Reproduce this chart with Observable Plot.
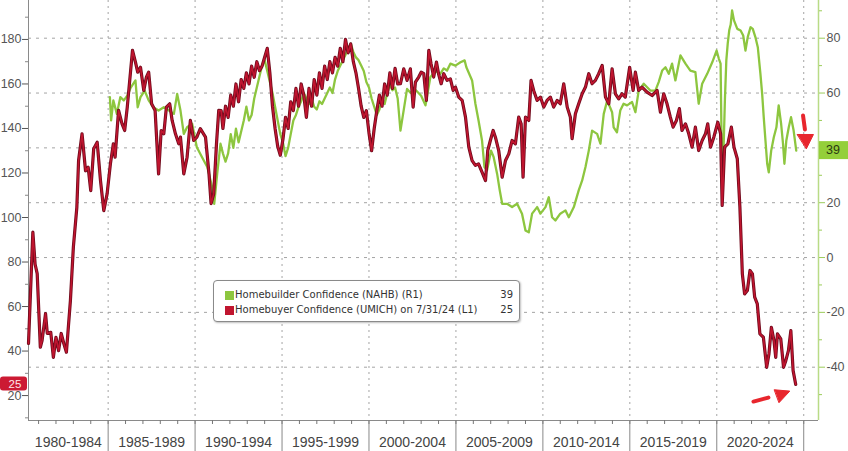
<!DOCTYPE html>
<html><head><meta charset="utf-8">
<script src="https://cdn.jsdelivr.net/npm/d3@7"></script>
<script src="https://cdn.jsdelivr.net/npm/@observablehq/plot@0.6"></script>
<style>
html,body{margin:0;padding:0;background:#fff;}
#wrap{position:relative;width:848px;height:451px;overflow:hidden;background:#fff;}
#legend{position:absolute;left:213px;top:280px;width:305px;height:40px;border:1px solid #8a8a8a;border-radius:4px;background:#fff;box-shadow:1px 1px 2px rgba(0,0,0,0.25);font-family:"DejaVu Sans",sans-serif;font-size:10px;color:#333;}
.lrow{position:absolute;left:11px;right:6px;height:14px;line-height:14px;}
.sw{position:absolute;left:0;top:3px;width:9px;height:9px;}
.lname{position:absolute;left:10px;}
.lval{position:absolute;right:0;}
</style>
</head><body>
<div id="wrap"></div>
<script>
// ---- data ----
const redSeries = [
[1980.42,43.4],[1980.67,93.4],[1980.8,79],[1980.92,74.8],[1981.1,41.7],[1981.2,44.7],[1981.4,56.8],[1981.5,47.9],[1981.7,48.4],[1981.85,37.2],
[1982.0,46.2],[1982.15,40.2],[1982.3,47.9],[1982.45,43.4],[1982.6,39.5],[1982.83,62.7],[1983.0,86.7],[1983.2,104.6],[1983.3,125.6],[1983.5,137.6],
[1983.7,121],[1983.85,122.6],[1984.0,112.1],[1984.17,130.9],[1984.37,133.8],[1984.56,116.6],[1984.75,103.1],[1984.94,110.6],[1985.13,124.1],[1985.3,133.1],
[1985.4,127.1],[1985.6,148.1],[1985.8,142.1],[1985.95,139.1],[1986.1,149.6],[1986.4,175.1],[1986.57,169.8],[1986.7,165.3],[1986.86,167.5],[1987.05,157.1],
[1987.2,163.1],[1987.33,165.3],[1987.5,151.1],[1987.7,148.1],[1987.9,119.6],[1988.05,139.1],[1988.2,137.6],[1988.35,149.6],[1988.54,151.1],[1988.68,143.6],
[1988.87,137.6],[1989.06,133.1],[1989.16,136.1],[1989.35,119.6],[1989.54,127.1],[1989.73,143.6],[1989.92,134.6],[1990.1,136.1],[1990.3,139.9],[1990.6,136.1],
[1990.8,119.6],[1990.92,106.2],[1991.07,110.6],[1991.23,133.1],[1991.36,148.1],
[1991.5,148],[1991.6,140],[1991.75,150],[1991.9,145],[1992.05,155],[1992.2,150],[1992.35,160],[1992.5,152],[1992.65,162],[1992.8,158],[1992.95,165],
[1993.1,160],[1993.25,168],[1993.4,163],[1993.55,170],[1993.7,166],[1993.85,168],[1994.0,172],[1994.15,176],[1994.3,165],[1994.45,150],[1994.6,140],[1994.75,132],[1994.9,128],
[1995.05,135],[1995.2,145],[1995.35,140],[1995.5,152],[1995.65,148],[1995.8,158],[1995.95,150],[1996.1,160],[1996.25,155],[1996.4,145],[1996.55,158],[1996.7,150],[1996.85,162],
[1997.0,155],[1997.15,165],[1997.3,158],[1997.45,168],[1997.6,162],[1997.75,170],[1997.9,165],[1998.05,172],[1998.2,168],[1998.35,176],[1998.5,170],[1998.65,180],[1998.8,174],[1998.95,178],
[1999.1,170],[1999.25,165],[1999.4,158],[1999.55,150],[1999.7,145],[1999.85,148],[2000.0,138],[2000.15,130],[2000.3,140],[2000.45,148],[2000.6,155],[2000.75,150],[2000.9,160],
[2001.05,155],[2001.2,165],[2001.35,158],[2001.5,167],[2001.65,160],
[2001.81,160.1],[2002.0,166.8],[2002.19,161.6],[2002.38,166.8],[2002.54,149.6],[2002.67,160.8],[2002.86,163.1],[2003.0,165.3],[2003.15,164.6],[2003.3,152.6],
[2003.44,175.1],[2003.57,169.1],[2003.72,163.1],[2003.88,169.8],[2004.0,164.6],[2004.15,160.1],[2004.3,164.6],[2004.49,161.6],[2004.68,162.3],[2004.84,157.1],
[2004.97,158.6],[2005.16,154.1],[2005.36,152.6],[2005.55,145.1],[2005.74,131.6],[2005.93,125.6],[2006.12,123.4],[2006.3,124.1],[2006.5,120.4],[2006.7,116.6],
[2006.83,130.1],[2006.98,134.6],[2007.14,139.1],[2007.27,136.1],[2007.46,130.1],[2007.66,118.1],[2007.85,125.6],[2008.04,128.6],[2008.23,134.6],[2008.42,133.1],
[2008.61,145.1],[2008.75,142.1],[2008.86,118.1],[2009.0,145.1],[2009.19,143.6],[2009.32,161.6],[2009.47,157.1],[2009.67,152.6],[2009.86,154.1],[2010.05,149.6],
[2010.24,152.6],[2010.43,154.1],[2010.62,149.6],[2010.82,152.6],[2011.0,151.1],[2011.2,160.1],[2011.4,149.6],[2011.58,145.1],[2011.68,135.4],[2011.87,146.6],
[2012.06,151.1],[2012.26,155.6],[2012.45,158.6],[2012.64,164.6],[2012.83,160.1],[2013.02,161.6],[2013.21,164.6],[2013.41,168.3],
[2013.6,154.1],[2013.79,151.1],[2013.98,166.8],[2014.17,155.6],[2014.36,153.3],[2014.55,155.6],[2014.74,154.1],[2014.99,167.5],[2015.19,157.1],[2015.32,165.3],
[2015.51,157.1],[2015.7,158.6],[2015.99,156.3],[2016.28,154.8],[2016.57,157.1],[2016.76,147.3],[2016.95,155.6],[2017.14,151.1],[2017.33,145.1],[2017.49,140.6],
[2017.68,143.6],[2017.85,148.9],[2018.0,139.1],[2018.2,142.1],[2018.39,137.6],[2018.58,131.6],[2018.77,140.6],[2018.96,130.1],[2019.16,134.6],[2019.35,137.6],
[2019.48,142.1],[2019.64,131.6],[2019.83,136.1],[2020.06,142.8],[2020.22,137.6],[2020.31,105.4],[2020.45,131.6],[2020.64,133.1],[2020.84,140.6],[2020.99,131.6],
[2021.18,126.4],[2021.33,104.6],[2021.47,74.7],[2021.6,65.7],[2021.76,67.2],[2021.91,76.2],[2022.05,74.7],[2022.18,64.2],[2022.33,61.2],[2022.48,47.7],
[2022.68,46.2],[2022.87,32.7],[2023.0,38.7],[2023.14,50.7],[2023.29,44.7],[2023.39,37.2],[2023.49,47.7],[2023.68,45.5],[2023.84,32.7],[2023.97,35.7],
[2024.12,40.2],[2024.26,49.2],[2024.39,31.2],[2024.54,25]
];
const greenSeries = [
[1985.1,58.5],[1985.17,50],[1985.3,57.3],[1985.5,52.4],[1985.7,58.5],[1985.9,57.3],[1986.1,59],[1986.3,62],[1986.57,64.6],[1986.7,54.8],
[1986.86,58.5],[1987.1,60.9],[1987.33,57.3],[1987.6,54.8],[1987.9,53.6],[1988.2,54.8],[1988.5,53.6],[1988.78,52.4],[1988.97,59.7],[1989.16,53.6],
[1989.35,45.1],[1989.54,47.5],[1989.83,48.8],[1990.1,40.2],[1990.4,36.6],[1990.7,33],[1990.98,25.7],[1991.1,19.6],[1991.27,30.5],[1991.46,41.5],
[1991.6,38],[1991.75,35],[1991.9,38],[1992.05,45],[1992.2,40],[1992.35,47],[1992.5,42],[1992.65,46],[1992.8,50],[1992.95,55],
[1993.1,50],[1993.25,52],[1993.4,58],[1993.55,62],[1993.7,66],[1993.85,70],[1994.0,72],[1994.15,68],[1994.3,64],[1994.45,60],[1994.6,55],[1994.75,50],[1994.9,45],
[1995.05,42],[1995.2,37],[1995.35,40],[1995.5,45],[1995.65,50],[1995.8,52],[1995.95,55],[1996.1,57],[1996.25,60],[1996.4,58],[1996.55,56],[1996.7,58],[1996.85,55],
[1997.0,54],[1997.15,57],[1997.3,56],[1997.45,58],[1997.6,60],[1997.75,62],[1997.9,60],[1998.05,65],[1998.2,68],[1998.35,70],[1998.5,72],[1998.65,74],[1998.8,76],[1998.95,78],
[1999.1,75],[1999.25,73],[1999.4,72],[1999.55,70],[1999.7,68],[1999.85,64],[2000.0,62],[2000.15,58],[2000.3,55],[2000.45,52],[2000.6,54],[2000.75,58],[2000.9,56],
[2001.05,60],[2001.2,63],[2001.35,61],[2001.5,62],[2001.65,58],
[2001.81,46.3],[2002.19,61.5],[2002.4,60],[2002.7,61],[2003.0,59],[2003.25,55.5],[2003.53,65.8],[2003.8,68],[2004.1,67],[2004.3,69],
[2004.49,68.2],[2004.68,70.7],[2004.97,70],[2005.26,71.2],[2005.5,71.9],[2005.6,69.4],[2005.93,64.6],[2006.12,56.1],[2006.3,50],[2006.5,42.7],
[2006.64,33],[2006.79,31.8],[2007.02,39],[2007.17,36.6],[2007.37,30.5],[2007.52,24.5],[2007.66,19.6],[2007.94,19.6],[2008.23,18.4],[2008.52,19.6],
[2008.8,16],[2009.0,9.9],[2009.19,9.2],[2009.38,16],[2009.67,18.4],[2009.86,16],[2010.15,18.4],[2010.34,22],[2010.53,14.7],[2010.72,13.5],
[2011.0,16],[2011.3,17.2],[2011.49,14.7],[2011.78,18.4],[2012.06,24.5],[2012.26,28.1],[2012.45,33],[2012.64,39],[2012.83,46.3],[2013.12,45.1],
[2013.31,41.5],[2013.5,52.4],[2013.7,57.3],[2013.98,53],[2014.07,47.5],[2014.26,45.7],[2014.45,53.6],[2014.64,56.1],[2014.84,55.5],[2015.13,56.7],
[2015.32,53],[2015.51,60.9],[2015.8,63.4],[2016.18,60.9],[2016.47,60.9],[2016.66,64],[2016.86,68.2],[2017.05,69.4],[2017.24,67],[2017.43,70.7],
[2017.62,64.6],[2017.91,73.7],[2018.2,70.7],[2018.48,68.2],[2018.77,67.6],[2018.96,56.1],[2019.16,63.4],[2019.45,67],[2019.74,71.2],[2019.99,75.5],
[2020.12,72.5],[2020.22,70.7],[2020.3,30],[2020.38,37],[2020.47,58],[2020.55,72],[2020.63,78],[2020.72,83],[2020.8,85],[2020.88,90.1],
[2020.99,86.5],[2021.18,83.4],[2021.37,82.8],[2021.52,81],[2021.65,75.5],[2021.78,80.4],[2021.94,84],[2022.07,83.4],[2022.22,80.4],[2022.36,76.7],
[2022.51,67],[2022.61,59.7],[2022.7,51.2],[2022.8,42.7],[2022.9,34.2],[2022.99,31.1],[2023.13,39],[2023.28,43.9],[2023.43,47.5],[2023.56,55.5],
[2023.7,48.8],[2023.81,41.5],[2023.89,34.2],[2024.0,42.7],[2024.14,47.5],[2024.27,51.2],[2024.42,46.3],[2024.57,39]
];
const periodStarts = [1980,1985,1990,1995,2000,2005,2010,2015,2020];
const periodLabels = ["1980-1984","1985-1989","1990-1994","1995-1999","2000-2004","2005-2009","2010-2014","2015-2019","2020-2024"];
const leftTicks = [20,40,60,80,100,120,140,160,180];
const leftMinor = [10,30,50,70,90,110,130,150,170,190];
const rightTicks = [-40,-20,0,20,40,60,80];
const rightMinor = [-50,-30,-10,10,30,50,70,90];
const legendNames = ["Homebuilder Confidence (NAHB) (R1)","Homebuyer Confidence (UMICH) on 7/31/24 (L1)"];
const legendValues = [39, 25];
const seriesColors = ["#8dc63f", "#c0152f"];
// annotation arrows (year, left-axis value)
const arrowShafts = [
  {a:"top",t:2024.96,v:145.8},{a:"top",t:2025.07,v:139.5},
  {a:"bot",t:2022.11,v:17.3},{a:"bot",t:2022.97,v:19.1}
];
const arrowHeads = [
  {a:"top",t:2024.64,v:137.3},{a:"top",t:2025.56,v:137.3},{a:"top",t:2025.16,v:131.0},
  {a:"bot",t:2023.32,v:22.6},{a:"bot",t:2024.2,v:22.0},{a:"bot",t:2023.59,v:16.9}
];

// ---- scales ----
const X0 = 1980.42, X1 = 2025.85;
const L0 = 8.8, L1 = 197.5;
const R0 = -59.44, R1 = 93.75;
const toLeft = g => L0 + (g - R0) * (L1 - L0) / (R1 - R0);

const red = redSeries.map(([t, v]) => ({t, v}));
const green = greenSeries.map(([t, g]) => ({t, v: toLeft(g)}));
const yearTicks = d3.range(1981, 2026);
const labelCenters = periodStarts.map(s => (Math.max(s, X0) + Math.min(s + 5, X1)) / 2);
const labelMap = new Map(labelCenters.map((c, i) => [c, periodLabels[i]]));
const lastGreen = greenSeries[greenSeries.length - 1][1];
const lastRed = redSeries[redSeries.length - 1][1];
// the value badge on the right axis covers the tick label nearest to it
const rightMap = new Map(rightTicks.map(r => [toLeft(r), Math.abs(r - lastGreen) < 8 ? "" : String(r)]));
const narrow = "'Liberation Sans Narrow','Arial Narrow',sans-serif";

const chart = Plot.plot({
  width: 848, height: 451,
  marginLeft: 28, marginRight: 30, marginTop: 0, marginBottom: 31,
  style: {fontFamily: narrow, fontSize: "12.5px", color: "#555", background: "#fff", overflow: "visible"},
  x: {domain: [X0, X1], label: null},
  y: {domain: [L0, L1], label: null},
  marks: [
    Plot.gridY(rightTicks.map(toLeft), {stroke: "#9a9a9a", strokeOpacity: 0.9, strokeDasharray: "3,5"}),
    Plot.gridX(periodStarts.slice(1).concat([2025]), {stroke: "#9a9a9a", strokeOpacity: 0.9, strokeDasharray: "2,4"}),
    Plot.ruleX([X0], {stroke: "#8a8a8a"}),
    Plot.ruleX([X1], {stroke: "#b9db86", strokeWidth: 1.5}),
    Plot.ruleY([L0], {stroke: "#8a8a8a"}),
    Plot.axisY(leftMinor, {anchor: "left", tickSize: 3, tickFormat: () => "", color: "#888"}),
    Plot.axisY(leftTicks, {anchor: "left", tickSize: 6, tickPadding: 1, color: "#555", fontFamily: narrow, fontSize: 12.5}),
    Plot.axisY(rightMinor.map(toLeft), {anchor: "right", tickSize: 3, tickFormat: () => "", color: "#9ccc5a"}),
    Plot.axisY(rightTicks.map(toLeft), {anchor: "right", tickSize: 6, tickPadding: 2, tickFormat: d => rightMap.get(d), stroke: "#9ccc5a", fill: "#555", fontFamily: narrow, fontSize: 12.5}),
    Plot.axisX(yearTicks, {anchor: "bottom", tickSize: 4, tickFormat: () => "", color: "#777"}),
    Plot.axisX(periodStarts.slice(1).concat([2025]), {anchor: "bottom", tickSize: 31, tickFormat: () => "", color: "#888"}),
    Plot.axisX(labelCenters, {anchor: "bottom", tickSize: 0, tickPadding: 17, tickFormat: d => labelMap.get(d), color: "#444", fontFamily: narrow, fontSize: 14}),
    Plot.line(green, {x: "t", y: "v", stroke: seriesColors[0], strokeWidth: 2.3}),
    Plot.line(red, {x: "t", y: "v", stroke: "#6e0a1c", strokeWidth: 3.2}),
    Plot.line(red, {x: "t", y: "v", stroke: seriesColors[1], strokeWidth: 1.6}),
    Plot.line(arrowShafts, {x: "t", y: "v", z: "a", stroke: "#e8262d", strokeWidth: 4, strokeLinecap: "round"}),
    Plot.line(arrowHeads, {x: "t", y: "v", z: "a", fill: "#e8262d", stroke: "#e8262d", strokeWidth: 1, curve: "linear-closed"})
  ]
});

const wrap = document.getElementById("wrap");
wrap.appendChild(chart);

// value badges on the axes, positioned through the plot's y scale
const ys = chart.scale("y");
const yPix = ys.apply ? (v => ys.apply(v)) : d3.scaleLinear(ys.domain, ys.range);
const svg = d3.select(chart);
const g = svg.append("g");
const yr = yPix(lastRed);
g.append("rect").attr("x", 0).attr("y", yr - 7.5).attr("width", 27).attr("height", 14).attr("rx", 3).attr("fill", "#cc1a33");
g.append("text").attr("x", 15).attr("y", yr).attr("dy", "0.35em").attr("text-anchor", "middle")
  .attr("fill", "#fde8ea").attr("font-family", narrow).attr("font-size", 11.5).text(String(legendValues[1]));
const yg = yPix(toLeft(lastGreen));
g.append("rect").attr("x", 819).attr("y", yg - 9).attr("width", 29).attr("height", 18).attr("fill", "#94cf3a");
g.append("text").attr("x", 826).attr("y", yg).attr("dy", "0.35em").attr("text-anchor", "start")
  .attr("fill", "#2b3a12").attr("font-family", narrow).attr("font-size", 12.5).text(String(legendValues[0]));

// legend
const lg = document.createElement("div");
lg.id = "legend";
legendNames.forEach((name, i) => {
  const row = document.createElement("div");
  row.className = "lrow";
  row.style.top = (7 + i * 15) + "px";
  row.innerHTML = `<span class="sw" style="background:${seriesColors[i]}"></span><span class="lname">${name}</span><span class="lval">${legendValues[i]}</span>`;
  lg.appendChild(row);
});
wrap.appendChild(lg);
</script>
</body></html>
